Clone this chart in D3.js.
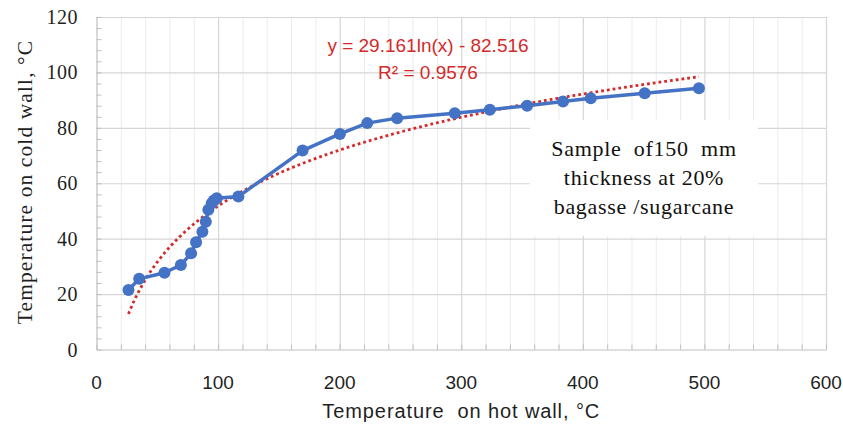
<!DOCTYPE html>
<html>
<head>
<meta charset="utf-8">
<title></title>
<style type="text/css">
  body{margin:0;background:#fff;}
  svg{display:block;}
</style>
</head>
<body>
<div id='graph-container'></div>
<script src="https://d3js.org/d3.v7.min.js"></script>
<script type="text/javascript">

var hotWall = [26.3, 35.1, 55.9, 69.4, 77.8, 81.9, 87.1, 89.9, 92.0, 94.8, 96.5, 98.9, 116.7,
  169.5, 200.2, 222.7, 247.3, 294.7, 323.5, 354.2, 383.7, 406.5, 450.9, 495.5]
var coldWall = [21.5, 25.5, 27.7, 30.5, 34.7, 38.7, 42.5, 46.1, 50.4, 52.8, 53.8, 54.6, 55.2,
  71.8, 77.8, 81.7, 83.5, 85.3, 86.5, 88.0, 89.5, 90.7, 92.5, 94.3]
var xTicks = [0, 100, 200, 300, 400, 500, 600]
var yTicks = [0, 20, 40, 60, 80, 100, 120]
// log trendline as printed on the chart
var trendA = 29.161
var trendB = -82.516
var trendLabel = ['y = 29.161ln(x) - 82.516', 'R\u00b2 = 0.9576']
var noteLines = ['Sample  of150  mm', 'thickness at 20%', 'bagasse /sugarcane']
var xTitle = 'Temperature  on hot wall, \u00b0C'
var yTitle = 'Temperature on cold wall, \u00b0C'

var width = 843
var height = 424
var plot = {left: 96.5, right: 826, top: 17, bottom: 349.5}

var xScale = d3.scaleLinear().domain([0, 600]).range([plot.left, plot.right])
var yScale = d3.scaleLinear().domain([0, 120]).range([plot.bottom, plot.top])

var svg = d3.select('#graph-container').append('svg')
  .attr('width', width)
  .attr('height', height)

// minor vertical grid every 20
svg.append('g')
  .attr('transform', `translate(0,${plot.bottom})`)
  .call(d3.axisBottom(xScale).tickValues(d3.range(20, 600, 20).filter(d => d % 100 !== 0))
    .tickSize(-(plot.bottom - plot.top)).tickFormat(''))
  .call(g => g.select('.domain').remove())
  .selectAll('line').attr('stroke', '#ebebeb').attr('stroke-width', 1)

// major grid
svg.append('g')
  .attr('transform', `translate(0,${plot.bottom})`)
  .call(d3.axisBottom(xScale).tickValues(xTicks.slice(1)).tickSize(-(plot.bottom - plot.top)).tickFormat(''))
  .call(g => g.select('.domain').remove())
  .selectAll('line').attr('stroke', '#d6d6d6').attr('stroke-width', 1.2)
svg.append('g')
  .attr('transform', `translate(${plot.left},0)`)
  .call(d3.axisLeft(yScale).tickValues(yTicks.slice(1)).tickSize(-(plot.right - plot.left)).tickFormat(''))
  .call(g => g.select('.domain').remove())
  .selectAll('line').attr('stroke', '#d6d6d6').attr('stroke-width', 1.2)

// axis lines with inner minor ticks
svg.append('g')
  .attr('transform', `translate(0,${plot.bottom})`)
  .call(d3.axisBottom(xScale).tickValues(d3.range(0, 601, 20)).tickSize(-5).tickSizeOuter(0).tickFormat(''))
  .call(g => g.select('.domain').attr('stroke', '#bfbfbf').attr('stroke-width', 1.2))
  .selectAll('line').attr('stroke', '#bfbfbf')
svg.append('g')
  .attr('transform', `translate(${plot.left},0)`)
  .call(d3.axisLeft(yScale).tickValues(d3.range(0, 121, 4)).tickSize(-5).tickSizeOuter(0).tickFormat(''))
  .call(g => g.select('.domain').attr('stroke', '#bfbfbf').attr('stroke-width', 1.2))
  .selectAll('line').attr('stroke', '#bfbfbf')

// tick labels
svg.append('g')
  .selectAll('text')
  .data(xTicks)
  .enter()
  .append('text')
  .attr('x', d => xScale(d))
  .attr('y', 382)
  .attr('dy', '0.35em')
  .attr('text-anchor', 'middle')
  .style('font-family', 'Liberation Sans, Arial, sans-serif')
  .style('font-size', '19px')
  .attr('fill', '#1f1f1f')
  .text(d => d)
svg.append('g')
  .selectAll('text')
  .data(yTicks)
  .enter()
  .append('text')
  .attr('x', 78)
  .attr('y', d => yScale(d))
  .attr('dy', '0.35em')
  .attr('text-anchor', 'end')
  .style('font-family', 'Liberation Serif, Times New Roman, serif')
  .style('font-size', '20px')
  .style('letter-spacing', '0.5px')
  .attr('fill', '#1f1f1f')
  .text(d => d)

// axis titles
svg.append('text')
  .attr('x', (plot.left + plot.right) / 2)
  .attr('y', 411)
  .attr('dy', '0.35em')
  .attr('text-anchor', 'middle')
  .style('font-family', 'Liberation Sans, Arial, sans-serif')
  .style('font-size', '20px')
  .style('letter-spacing', '0.9px')
  .style('white-space', 'pre')
  .attr('fill', '#1f1f1f')
  .text(xTitle)
svg.append('text')
  .attr('transform', 'translate(24,' + 182 + ') rotate(-90)')
  .attr('dy', '0.35em')
  .attr('text-anchor', 'middle')
  .style('font-family', 'Liberation Serif, Times New Roman, serif')
  .style('font-size', '21.5px')
  .style('letter-spacing', '1.1px')
  .attr('fill', '#1f1f1f')
  .text(yTitle)

// trendline
var trendX = d3.range(d3.min(hotWall), d3.max(hotWall), 1).concat([d3.max(hotWall)])
var trendLine = d3.line()
  .x(d => xScale(d))
  .y(d => yScale(trendA * Math.log(d) + trendB))
svg.append('path')
  .datum(trendX)
  .attr('d', trendLine)
  .attr('fill', 'none')
  .attr('stroke', '#d42a2a')
  .attr('stroke-width', 2.8)
  .attr('stroke-dasharray', '2.8 3')

// note box
svg.append('rect')
  .attr('x', 530)
  .attr('y', 120)
  .attr('width', 228)
  .attr('height', 116)
  .attr('fill', '#fff')
svg.append('g')
  .selectAll('text')
  .data(noteLines)
  .enter()
  .append('text')
  .attr('x', 644)
  .attr('y', (d, i) => 148 + i * 29)
  .attr('dy', '0.35em')
  .attr('text-anchor', 'middle')
  .style('font-family', 'Liberation Serif, Times New Roman, serif')
  .style('font-size', '22px')
  .style('letter-spacing', '0.7px')
  .style('white-space', 'pre')
  .attr('fill', '#111')
  .text(d => d)

// data series
var dataLine = d3.line()
  .x(d => xScale(d[0]))
  .y(d => yScale(d[1]))
var points = hotWall.map((d, i) => [d, coldWall[i]])
svg.append('path')
  .datum(points)
  .attr('d', dataLine)
  .attr('fill', 'none')
  .attr('stroke', '#4472c4')
  .attr('stroke-width', 3.5)
  .attr('stroke-linejoin', 'round')
svg.selectAll('circle.nodes')
  .data(points)
  .enter()
  .append('circle')
  .attr('class', 'nodes')
  .attr('cx', d => xScale(d[0]))
  .attr('cy', d => yScale(d[1]))
  .attr('r', 6)
  .attr('fill', '#4472c4')

// trendline label
svg.append('g')
  .selectAll('text')
  .data(trendLabel)
  .enter()
  .append('text')
  .attr('x', 428)
  .attr('y', (d, i) => 45 + i * 27)
  .attr('dy', '0.35em')
  .attr('text-anchor', 'middle')
  .style('font-family', 'Liberation Sans, Arial, sans-serif')
  .style('font-size', '19px')
  .attr('fill', '#d42a2a')
  .text(d => d)

</script>
</body>
</html>
